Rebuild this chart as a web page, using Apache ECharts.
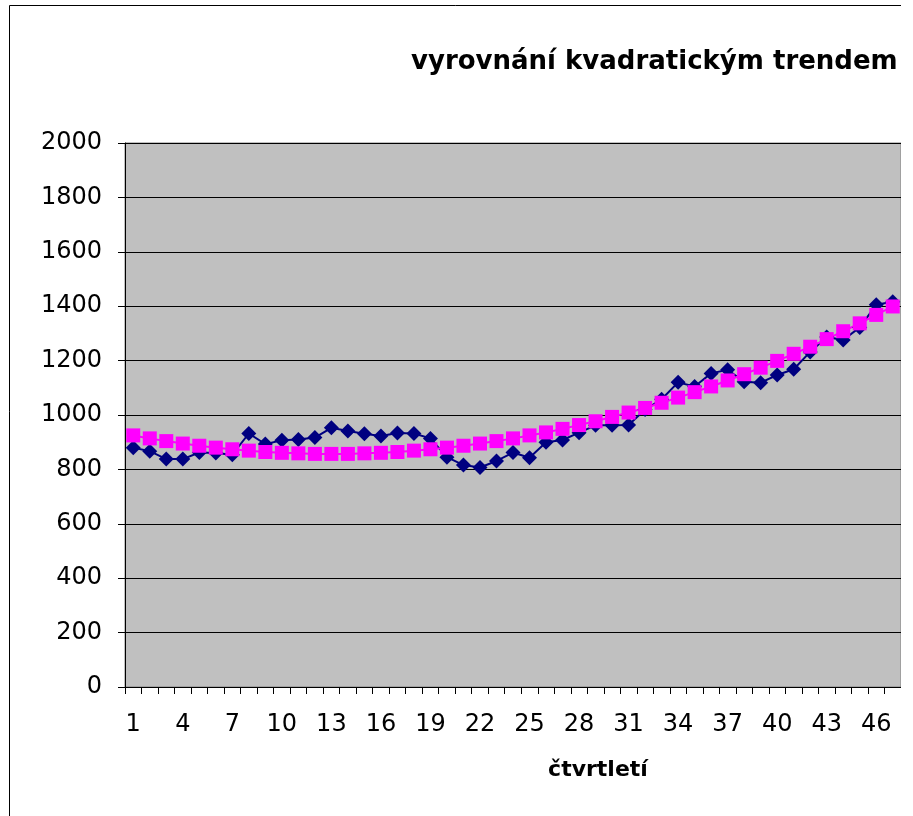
<!DOCTYPE html>
<html>
<head>
<meta charset="utf-8">
<script src="https://cdn.jsdelivr.net/npm/echarts@6/dist/echarts.min.js"></script>
<style>
html, body { margin: 0; padding: 0; background: #fff; }
#chart { width: 901px; height: 816px; }
</style>
</head>
<body>
<div id="chart"></div>
<script>
// čtvrtletí 1..47 (visible part of the chart)
var quarters = ['1','2','3','4','5','6','7','8','9','10','11','12','13','14','15','16','17','18','19','20',
    '21','22','23','24','25','26','27','28','29','30','31','32','33','34','35','36','37','38','39','40',
    '41','42','43','44','45','46','47'];

// actual values
var actual = [880, 867, 838, 838, 862, 860, 854, 932, 893, 907, 910, 917, 953, 941, 931, 923, 934, 932, 914, 845,
    816, 807, 831, 862, 843, 900, 908, 935, 962, 962, 963, 1020, 1058, 1120, 1105, 1153, 1166, 1122, 1119, 1147,
    1168, 1232, 1287, 1276, 1322, 1405, 1416];

// quadratic trend
var trend = [925, 914, 904, 895, 887, 880, 874, 869, 864, 861, 859, 857, 857, 857, 859, 861, 864, 869, 874, 880,
    887, 895, 904, 914, 925, 936, 949, 963, 977, 993, 1009, 1026, 1045, 1064, 1084, 1105, 1127, 1150, 1174, 1199,
    1225, 1251, 1279, 1308, 1337, 1368, 1399];

var yTicks = { min: 0, max: 2000, step: 200 };

var chart = echarts.init(document.getElementById('chart'));

var option = {
    animation: false,
    textStyle: { fontFamily: 'DejaVu Sans' },
    title: {
        text: 'vyrovnání kvadratickým trendem',
        left: 406,
        top: 44,
        textStyle: { fontFamily: 'DejaVu Sans', fontSize: 26, fontWeight: 'bold', color: '#000' }
    },
    graphic: [
        {
            type: 'rect',
            shape: { x: 9.5, y: 5.5, width: 1400, height: 1000 },
            style: { fill: 'none', stroke: '#000', lineWidth: 1 },
            z: -1
        },
        {
            type: 'text',
            x: 598,
            y: 770,
            style: {
                text: 'čtvrtletí',
                fontFamily: 'DejaVu Sans',
                fontSize: 22,
                fontWeight: 'bold',
                fill: '#000',
                align: 'center',
                verticalAlign: 'middle'
            }
        }
    ],
    grid: {
        left: 125,
        top: 143,
        width: 777,
        height: 544,
        show: true,
        backgroundColor: '#c0c0c0',
        borderColor: '#808080',
        borderWidth: 1
    },
    xAxis: {
        type: 'category',
        data: quarters,
        boundaryGap: true,
        axisLine: { lineStyle: { color: '#000', width: 1 } },
        axisTick: { show: true, interval: 0, length: 7, lineStyle: { color: '#000' } },
        axisLabel: { interval: 2, margin: 26, fontSize: 24, color: '#000', fontFamily: 'DejaVu Sans' },
        splitLine: { show: false }
    },
    yAxis: {
        type: 'value',
        min: yTicks.min,
        max: yTicks.max,
        interval: yTicks.step,
        axisLine: { show: true, lineStyle: { color: '#000', width: 1 } },
        axisTick: { show: true, length: 7, lineStyle: { color: '#000' } },
        axisLabel: {
            margin: 23, fontSize: 24, color: '#000', fontFamily: 'DejaVu Sans',
            formatter: function (v) { return String(v); }
        },
        splitLine: { show: true, lineStyle: { color: '#000', width: 1 } }
    },
    series: [
        {
            name: 'skutečnost',
            type: 'line',
            data: actual,
            symbol: 'diamond',
            symbolSize: 15,
            showAllSymbol: true,
            itemStyle: { color: '#000080' },
            lineStyle: { color: '#000080', width: 2 }
        },
        {
            name: 'trend',
            type: 'line',
            data: trend,
            symbol: 'rect',
            symbolSize: 14,
            showAllSymbol: true,
            itemStyle: { color: '#ff00ff' },
            lineStyle: { color: '#ff00ff', width: 2 }
        }
    ]
};

chart.setOption(option);
</script>
</body>
</html>
